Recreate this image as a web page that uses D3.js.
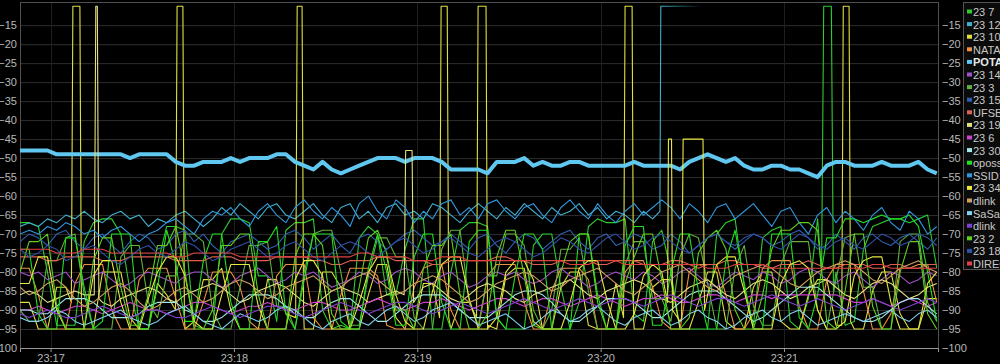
<!DOCTYPE html>
<html>
<head>
<meta charset="utf-8">
<script src="https://cdn.jsdelivr.net/npm/d3@7"></script>
<style>
  html, body { margin: 0; padding: 0; background: #000; overflow: hidden; }
  svg { display: block; font-family: "Liberation Sans", Arial, sans-serif; }
  .axis text { fill: #b8b8b8; font-size: 11px; }
  .legend text { fill: #c8c8c8; font-size: 11px; }
</style>
</head>
<body>
<div id="chart"></div>
<script>
// signal strength log, one sample every 3 s from 23:16:50 (null = no sample on that tick)
const startTime = new Date(2020, 0, 1, 23, 16, 50);
const stepSec = 3;

const seriesNames = ["23 7", "23 12", "23 10", "NATALIA", "POTATO", "23 14", "23 3", "23 15", "UFSBRA", "23 19",
    "23 6", "23 30", "opossum", "SSID1", "23 34", "dlink", "SaSaSa", "dlink", "23 2", "23 18", "DIRECT"];
const seriesColors = ["#2ecc2e", "#40b0d0", "#e0e040", "#f09040", "#60c8f0", "#a050c8", "#60b040", "#3060b0", "#e06050", "#e0e080",
    "#d040d0", "#a0e8e8", "#20e020", "#3098e0", "#e8e840", "#d0a060", "#80d0f0", "#8040d0", "#60d020", "#3050a8", "#e04040"];
const yTicks = [-100, -95, -90, -85, -80, -75, -70, -65, -60, -55, -50, -45, -40, -35, -30, -25, -20, -15];

const s23_7 = [-67,-67,-68,-80,-94,-94,-94,-72,-67,-66, -66,-70,-85,-95,-95,-78,-68,-68,-69,-94,
    -95,-95,-70,-66,-66,-67,-81,-81,-93,-69, -67,-67,-66,-90,-95,-94,-95,-71,-68,-70,
    -86,-86,-74,-66,-66,-95,-95,-80,-69,-67, -67,-68,-92,-95,-95,-95,-73,-70,-70,-84,
    -95,-88,-68,-66,-67,-67,-66,-91,-93,-72, -69,-80,-95,-95,-95,-95,-70,-67,-66,-84,
    -94,-71,-69,-68,-93,-95,-87,-66,null,-80, -94,-93,-74,-68,-67,-66,-66,-67,-66,-65,-79];
const s23_12 = [-68,-67,-68,-66,-67,-65,-66,-64,-66,-67, -65,-64,-66,-65,-68,-66,-67,-65,-64,-66,
    -68,-66,-63,-65,-62,-64,-66,-63,-62,-65, -66,-64,-62,-65,-67,-63,-62,-66,-64,-67,
    -63,-62,-65,-64,-66,-62,-63,-65,-67,-64, -62,-64,-66,-63,-65,-62,-64,-66,-63,-65,
    -64,-62,-65,-63,-66,-64,-65,-67,-64,-66];
const s23_10 = [-88,-88,-95,-95,-84,-84,null,-95,-95,-80, -80,-80,-92,-95,-95,-83,-86,null,-95,-93,
    -82,-82,-79,-90,-95,-95,-95,-82,-82,-91, null,-95,-95,-80,-80,-84,-95,-95,-86,-78,
    -78,-92,-95,-95,-83,-83,null,-95,-88,-88, null,-95,-95,-81,-79,-79,-93,-95,-95,-84,
    -80,-80,-94,-95,-95,-83,null,-95,-95,-84, -82,-82,-95,-95,-88,-80,-80,-93,-95,-95,
    -84,-80,-80,-93,-95,-95,-86,-82,-82,-94, null,-95,-95,-85,-80,-80,-91,-95,-95,-87,-87];
const natal = [-79,-79,-86,-95,-95,-95,-83,-78,-78,-78, -90,-95,-95,-82,-79,-79,-79,-87,-95,-95,
    -88,-80,-80,-80,-84,-93,-95,-95,-81,-78, -78,-78,-92,-95,-95,-86,-79,-79,-79,-81,
    -94,-95,-95,-84,-79,-78,-78,-90,-95,-95, -95,-81,-78,-78,-78,-88,-95,-95,-85,-79,
    -79,-79,-82,-95,-95,-95,-80,-77,-77,-84, -93,-95,-95,-80,-78,-78,-78,-86,-95,-95,
    -91,-79,-77,-77,-77,-89,-95,-95,-82,-78, -78,-78,-85,-95,-95,-91,-79,-79,-78,-78,-88];
const potato = [-48,-48,-48,-48,-49,-49,-49,-49,-49,-49, -49,-49,-50,-49,-49,-49,-49,-51,-52,-52,
    -51,-51,-51,-50,-51,-50,-50,-50,-49,-49, -51,-52,-53,-51,-53,-54,-53,-52,-51,-50,
    -50,-50,-51,-50,-50,-50,-51,-53,-53,-53, -53,-54,-51,-51,-51,-50,-52,-51,-52,-52,
    -51,-51,-52,-52,-52,-52,-52,-51,-52,-52, -52,-52,-53,-51,-50,-49,-50,-51,-50,-52,
    -53,-53,-52,-52,-53,-53,-54,-55,-52,-51, -51,-52,-52,-52,-51,-52,-52,-52,-51,-53,-54];
const s23_14 = [-80,-81,-80,-82,-81,-80,-83,-82,-81,-80, -82,-84,-83,-81,-80,-81,-82,-83,-81,-80,
    -80,-82,-84,-83,-81,-80,-79,-81,-83,-82, -80,-81,-80,-82,-84,-83,-82,-80,-81,-83,
    -82,-80,-79,-80,-82,-83,-81,-80,-82,-84, -83,-81,-80,-81,-80,-82,-83,-82,-80,-79,
    -81,-82,-84,-83,-81,-80,-81,-82,-80,-81, -83,-82,-80,-79,-81,-83,-84,-82,-80,-81,
    -82,-80,-81,-83,-82,-80,-79,-80,-82,-83, -81,-80,-82,-84,-82,-80,-81,-83,-82,-80,-81];
const s23_3 = [-90,-93,-93,-77,-77,-71,-70,-86,-95,-95, -95,-76,-73,-73,-88,-92,-81,-81,-70,-70,
    -72,-90,-95,-95,-84,-73,-73,-72,-89,-89, -95,-80,-70,-69,-69,-80,-94,-94,-81,-71,
    -71,-76,-76,-92,-95,-95,-74,-69,-69,-88, -94,-81,-81,-70,-70,-73,-90,-95,-90,-74,
    -74,-71,-85,-95,-95,-95,-78,-72,-72,-87, -87,-93,-76,-70,-71,-83,-95,-95,-79,-73,
    -89,-94,-94,-78,-72,-72,-72,-90,-95,-82, -71,-70,-84,-84,-95,-95,-72,-70,-70,-88,-93];
const s23_15 = [-72,-70,-71,-73,-70,-69,-72,-74,-71,-70, -73,-75,-72,-70,-71,-74,-73,-70,-69,-72,
    -70,-73,-75,-72,-71,-70,-72,-74,-73,-70, -69,-71,-74,-72,-70,-73,-75,-71,-70,-72,
    -74,-72,-70,-69,-71,-73,-72,-70,-72,-74, -71,-70,-73,-75,-72,-70,-71,-74,-72,-70,
    -69,-72,-74,-71,-70,-73,-72,-70,-71,-74, -73,-70,-72,-75,-73,-71,-70,-72,-74,-72,
    -70,-71,-73,-72,-70,-69,-71,-74,-73,-70, -72,-74,-71,-70,-72,-73,-71,-70,-72,-74,-71];
const ufsbr = [-76,-76,-76,-77,-77,-76,-76,-76,-76,-77, -77,-77,-76,-76,-76,-76,-76,-77,-77,-77,
    -77,-76,-76,-76,-77,-77,-77,-77,-76,-76, -76,-76,-77,-77,-78,-78,-77,-77,-77,-76,
    -76,-77,-77,-77,-77,-78,-78,-77,-77,-77, -77,-77,-76,-76,-77,-77,-78,-78,-78,-77,
    -77,-77,-77,-78,-78,-77,-77,-77,-78,-78, -78,-77,-77,-78,-79,-78,-78,-77,-77,-78,
    -78,-79,-79,-78,-78,-78,-77,-78,-79,-79, -78,-78,-78,-79,-79,-78,-78,-79,-79,-78,-78];
const s23_19 = [-86,-85,-86,-88,-87,-86,-85,-86,null,-88, -89,-87,-86,-85,-84,-85,-87,-88,-86,-85,
    -84,-83,-84,-86,-88,-87,-85,-84,-83,-84, -86,-88,-89,-87,-85,-84,-85,-86,-88,-87,
    -86,-85,null,null,-84,-83,-85,-87,-88,-86, -84,-83,-84,-85,-87,-88,-86,-85,-84,-83,
    -82,-84,-86,-87,-85,-84,-83,-82,-83,-85, -87,-88,-86,-84,-83,-82,-84,-86,-87,-85,
    -83,-82,-83,-85,-87,-86,-84,-83,-82,-84, -86,-87,-85,-83,-82,-83,-85,-87,-86,-84,-83];
const s23_6 = [-90,-90,-89,-90,-91,-90,-89,-89,-90,-91, -90,-89,-88,-89,-90,-90,-91,-90,-89,-88,
    -88,-89,-90,-91,-90,-89,-89,-88,-89,-90, -90,-89,-88,-88,-89,-90,-90,-89,-88,-87,
    -88,-89,-90,-89,-88,-88,-87,-88,-89,-90, -89,-88,-87,-87,-88,-89,-88,-87,-87,-88,
    -89,-88,-87,-86,-87,-88,-89,-88,-87,-87, -86,-87,-88,-88,-87,-86,-86,-87,-88,-87,
    -86,-86,-87,-86,-86,-86,-86,-86,-86,-86, -87,-88,-88,-87,-88,-89,-88,-87,-88,-89,-88];
const s23_30 = [-90,-90,-91,-91,-89,-87,-87,-87,-88,-90, -92,-92,-92,-91,-89,-88,-88,-88,-90,-91,
    -93,-93,-92,-90,-88,-86,-86,-86,-87,-89, -91,-92,-92,-90,-88,-87,-87,-89,-91,-93,
    -93,-91,-89,-87,-86,-86,-86,-88,-90,-92, -92,-92,-90,-88,-86,-85,-85,-86,-88,-91,
    -93,-93,-91,-89,-87,-87,-87,-88,-90,-92, -92,-90,-88,-86,-85,-85,-85,-87,-89,-91,
    -93,-92,-90,-88,-86,-84,-84,-84,-86,-88, -90,-92,-93,-93,-92,-90,-88,-87,-87,-89,-91];
const opossum = [-74,-74,-91,-95,-95,-71,-71,-84,-95,-93, -70,-70,-70,-95,-95,-84,-69,-78,-93,-93,
    -77,-70,-70,-88,-95,-95,-72,-72,-68,-91, -95,-82,-70,-70,-70,-93,-95,-95,-79,-70,
    -80,-94,-94,-76,-70,-70,-88,-95,-95,-72, -69,-69,-92,-95,-81,-70,-70,-74,-95,-95,
    -95,-70,-70,-86,-95,-95,-73,-68,-68,-94, -94,-80,-70,-70,-85,-95,-95,-77,-69,-83,
    -95,-95,-70,-70,-70,-92,-95,-86,-71,-71, -66,-66,-67,-66,-65,-66,-66,-65,-68,-80,-93];
const ssid1 = [-70,-69,-70,-68,-69,-67,-68,-70,-69,-71, -69,-68,-70,-72,-70,-69,-67,-66,-68,-70,
    -66,-64,-65,-63,-66,-68,-64,-62,-65,-67, -63,-61,-64,-66,-63,-65,-68,-62,-60,-64,
    -66,-61,-63,-67,-64,-66,-62,-61,-65,-63, -66,-62,-61,-64,-66,-63,-62,-65,-67,-63,
    -61,-64,-66,-62,-65,-67,-64,-62,-65,-63, -61,-63,-66,-62,-64,-67,-63,-62,-66,-64,
    -62,-65,-68,-64,-63,-67,-70,-65,-63,-67, -64,-66,-69,-65,-63,-67,-69,-64,-66,-70,-68];
const s23_34 = [-83,-83,-76,-76,-90,-95,-95,-95,-81,-77, -77,-88,-95,-95,-87,-80,-76,-76,-81,-93,
    -95,-95,-86,-78,-78,-78,-89,-95,-95,-95, -82,-77,-77,-81,-95,-95,-95,-88,-80,-76,
    -76,-86,-93,-95,-95,-85,-78,-76,-76,-87, -95,-95,-92,-80,-77,-77,-82,-95,-95,-95,
    -88,-79,-77,-77,-87,-95,-95,-91,-81,-78, -80,null,-93,null,null,-86,-78,-76,-76,-85,
    -95,-95,-95,-83,-78,-77,-79,-90,-95,-95, -93,-81,-77,-76,-76,-88,-95,-95,-95,-83,-80];
const dlinkA = [-84,-86,-85,-83,-82,-84,-87,-89,-88,-86, -84,-83,-85,-88,-90,-89,-87,-85,-84,-86,
    -88,-87,-85,-83,-82,-83,-85,-87,-86,-84, -83,-82,-81,-83,-85,-84,-82,-81,-80,-82,
    -84,-86,-85,-83,-82,-81,-82,-84,-86,-88, -87,-85,-83,-82,-81,-80,-81,-83,-85,-84,
    -82,-81,-80,-79,-81,-83,-85,-86,-84,-82, -80,-79,-78,-80,-82,-84,-85,-83,-81,-80,
    -79,-78,-79,-81,-83,-84,-82,-80,-79,-78, -77,-78,-80,-82,-83,-81,-79,-78,-77,-79,-80];
const sasas = [-92,-93,-93,-92,-90,-91,-93,-94,-93,-92, -91,-90,-92,-93,-94,-93,-91,-90,-89,-91,
    -93,-94,-95,-93,-91,-92,-93,-92,-90,-89, -90,-92,-94,-95,-93,-92,-91,-93,-94,-92,
    -90,-89,-91,-93,-92,-90,-89,-88,-90,-92, -94,-93,-92,-91,-93,-95,-94,-92,-90,-91,
    -93,-92,-90,-89,-91,-93,-94,-92,-91,-90, -92,-94,-93,-91,-90,-92,-93,-95,-94,-92,
    -91,-90,-92,-93,-91,-90,-92,-94,-93,-92, -91,-92,-93,-92,-91,-90,-92,-93,-91,-90,-92];
const dlinkB = [-91,-92,-91,-90,-91,-92,-92,-91,-90,-89, -90,-91,-92,-91,-90,-90,-91,-92,-92,-91,
    -90,-89,-90,-91,-92,-91,-90,-89,-89,-90, -91,-92,-91,-90,-89,-88,-89,-90,-91,-90,
    -89,-88,-88,-89,-90,-91,-90,-89,-88,-89, -90,-91,-90,-89,-88,-87,-88,-89,-90,-89,
    -88,-87,-88,-89,-88,-87,-87,-88,-89,-88, -87,-86,-87,-88,-89,-88,-87,-87,-88,-89,
    -88,-87,-86,-87,-88,-89,-88,-87,-88,-89, -90,-89,-88,-87,-88,-89,-90,-89,-88,-87,-88];
const s23_2 = [-80,-72,-72,-70,-89,-95,-95,-95,-77,-71, -71,-84,-94,-94,-86,-73,-73,-68,-80,-95,
    -95,-90,-73,-73,-70,-70,-86,-95,-95,-95, -76,-70,-70,-73,-91,-95,-95,-84,-71,-69,
    -75,-90,-90,-95,-79,-73,-73,-70,-86,-95, -95,-91,-76,-69,-69,-81,-94,-95,-95,-80,
    -72,-70,-70,-88,-95,-95,-83,-76,-70,-70, -82,-95,-95,-92,-75,-71,-69,-74,-90,-95,
    -95,-86,-74,-69,-69,-67,-67,-69,-93,-95, -85,-70,-70,-89,-95,-95,-80,-72,-72,-91,-95];
const s23_18 = [-74,-76,-75,-73,-74,-77,-76,-74,-73,-75, -77,-78,-76,-74,-73,-75,-76,-74,-72,-73,
    -75,-77,-76,-74,-73,-72,-74,-76,-75,-73, -72,-74,-76,-77,-75,-73,-72,-73,-75,-76,
    -74,-72,-71,-73,-75,-74,-72,-71,-73,-75, -76,-74,-72,-71,-72,-74,-76,-75,-73,-71,
    -72,-74,-75,-73,-71,-70,-72,-74,-73,-71, -70,-72,-74,-75,-73,-71,-70,-72,-73,-71,
    -70,-71,-73,-74,-72,-70,-71,-73,-74,-72, -71,-73,-74,-72,-70,-71,-73,-72,-70,-71,-73];
const direct = [-74,-74,-74,-74,-75,-75,-75,-74,-74,-74, -75,-75,-75,-75,-75,-75,-75,-76,-76,-75,
    -75,-75,-75,-75,-76,-76,-76,-76,-76,-76, -76,-76,-76,-76,-76,-76,-76,-75,-75,-76,
    -76,-76,-76,-77,-77,-77,-76,-76,-76,-77, -77,-77,-77,-77,-77,-77,-77,-77,-77,-77,
    -78,-78,-78,-77,-77,-77,-78,-78,-78,-78, -78,-78,-78,-78,-78,-79,-79,-79,-78,-78,
    -78,-78,-79,-79,-79,-79,-79,-79,-79,-79, -79,-79,-79,-78,-78,-79,-79,-79,-79,-79,-79];

// readings logged between the 3 s ticks: [seconds after 23:16:50, dBm]
const extra23_7 = [[262.3, -80], [263.0, -10], [265.5, -10], [266.2, -85]];
const extra23_12 = [[209.4, -64], [209.7, -10], [222.5, -10]];
const extra23_10 = [[16.8, -88], [17.3, -10], [19.6, -10], [20.1, -90],
    [50.9, -90], [51.4, -10], [53.3, -10], [53.8, -92],
    [90.2, -92], [90.7, -10], [92.3, -10], [92.8, -90],
    [137.3, -92], [137.8, -10], [139.8, -10], [140.3, -92],
    [149.4, -92], [149.9, -10], [152.5, -10], [153.0, -94],
    [197.5, -92], [198.0, -10], [200.3, -10], [200.8, -93],
    [268.9, -94], [269.4, -10], [271.3, -10], [271.8, -93]];
const extra23_19 = [[24.3, -86], [24.8, -10], [25.3, -10], [25.8, -87],
    [125.7, -86], [126.2, -48], [128.3, -48], [128.8, -88]];
const extra23_34 = [[211.9, -88], [212.2, -45], [213.2, -45], [213.5, -90],
    [216.5, -92], [217.0, -45], [223.5, -45], [224.0, -90]];

const seriesValues = [s23_7, s23_12, s23_10, natal, potato, s23_14, s23_3, s23_15, ufsbr, s23_19,
    s23_6, s23_30, opossum, ssid1, s23_34, dlinkA, sasas, dlinkB, s23_2, s23_18, direct];
const seriesExtra = [extra23_7, extra23_12, extra23_10, [], [], [], [], [], [], extra23_19,
    [], [], [], [], extra23_34, [], [], [], [], [], []];

const W = 1000, H = 364;
const plot = {left: 20, right: 938, top: 2, bottom: 348};

const svg = d3.select("#chart").append("svg").attr("width", W).attr("height", H);
svg.append("rect").attr("width", W).attr("height", H).attr("fill", "#000");

const toDate = s => new Date(startTime.getTime() + s * 1000);
const x = d3.scaleTime()
    .domain([startTime, toDate(300.4)])
    .range([plot.left, plot.right]);
const y = d3.scaleLinear()
    .domain([-100, -8.9])
    .range([plot.bottom, plot.top]);

// grid
svg.append("g")
    .selectAll("line")
    .data(yTicks.filter(v => v > -100))
    .enter().append("line")
    .attr("x1", plot.left).attr("x2", plot.right)
    .attr("y1", d => y(d) + 0.5).attr("y2", d => y(d) + 0.5)
    .attr("stroke", "#2e2e2e");

const minuteTicks = x.ticks(d3.timeMinute.every(1));
svg.append("g")
    .selectAll("line")
    .data(minuteTicks)
    .enter().append("line")
    .attr("x1", d => Math.round(x(d)) + 0.5).attr("x2", d => Math.round(x(d)) + 0.5)
    .attr("y1", plot.top).attr("y2", plot.bottom)
    .attr("stroke", "#1e1e1e");

// frame
svg.append("rect")
    .attr("x", plot.left + 0.5).attr("y", plot.top + 0.5)
    .attr("width", plot.right - plot.left).attr("height", plot.bottom - plot.top)
    .attr("fill", "none").attr("stroke", "#505050");

// lines
svg.append("clipPath").attr("id", "plotClip")
    .append("rect")
    .attr("x", plot.left).attr("y", plot.top)
    .attr("width", plot.right - plot.left).attr("height", plot.bottom - plot.top);

const fade = svg.append("defs").append("linearGradient")
    .attr("id", "fade23_12").attr("gradientUnits", "userSpaceOnUse")
    .attr("x1", x(toDate(209.7))).attr("x2", x(toDate(222.5)))
    .attr("y1", 0).attr("y2", 0);
fade.append("stop").attr("offset", 0).attr("stop-color", seriesColors[1]).attr("stop-opacity", 1);
fade.append("stop").attr("offset", 1).attr("stop-color", seriesColors[1]).attr("stop-opacity", 0.05);

const series = seriesNames.map((name, k) => {
    const pts = [];
    seriesValues[k].forEach((v, i) => { if (v !== null) pts.push([i * stepSec, v]); });
    seriesExtra[k].forEach(p => pts.push(p));
    pts.sort((a, b) => a[0] - b[0]);
    return {name: name, color: seriesColors[k], pts: pts, bold: name === "POTATO"};
});

const line = d3.line()
    .x(d => x(toDate(d[0])))
    .y(d => y(d[1]));

svg.append("g")
    .attr("clip-path", "url(#plotClip)")
    .selectAll("path")
    .data(series)
    .enter().append("path")
    .attr("d", d => line(d.pts))
    .attr("fill", "none")
    .attr("stroke", (d, k) => k === 1 ? "url(#fade23_12)" : d.color)
    .attr("stroke-width", d => d.bold ? 4 : 1.1)
    .attr("stroke-linejoin", "round");

// axes
const yLeft = svg.append("g").attr("class", "axis")
    .attr("transform", `translate(${plot.left},0)`)
    .call(d3.axisLeft(y).tickValues(yTicks).tickSize(0).tickPadding(3));
const yRight = svg.append("g").attr("class", "axis")
    .attr("transform", `translate(${plot.right},0)`)
    .call(d3.axisRight(y).tickValues(yTicks).tickSize(0).tickPadding(4));
[yLeft, yRight].forEach(g => g.select(".domain").remove());

const xAxis = svg.append("g").attr("class", "axis")
    .attr("transform", `translate(0,${plot.bottom})`)
    .call(d3.axisBottom(x).ticks(d3.timeMinute.every(1)).tickFormat(d3.timeFormat("%H:%M")).tickSize(4).tickPadding(2));
xAxis.select(".domain").attr("stroke", "#9a9a9a");
xAxis.selectAll(".tick line").attr("stroke", "#9a9a9a");

// legend
const legend = svg.append("g").attr("class", "legend").attr("transform", "translate(963,2)");
legend.append("rect")
    .attr("x", 0.5).attr("y", 0.5)
    .attr("width", 60).attr("height", 267)
    .attr("fill", "#0b0b0b").attr("stroke", "#555");
const items = legend.selectAll("g.item")
    .data(series)
    .enter().append("g")
    .attr("class", "item")
    .attr("transform", (d, i) => `translate(0,${10 + i * 12.6})`);
items.append("rect")
    .attr("x", 4).attr("y", -2.5)
    .attr("width", 5).attr("height", 4)
    .attr("fill", d => d.color);
items.append("text")
    .attr("x", 10).attr("y", 4)
    .style("font-weight", d => d.bold ? "bold" : "normal")
    .style("fill", d => d.bold ? "#e8e8e8" : null)
    .text(d => d.name);
</script>
</body>
</html>
